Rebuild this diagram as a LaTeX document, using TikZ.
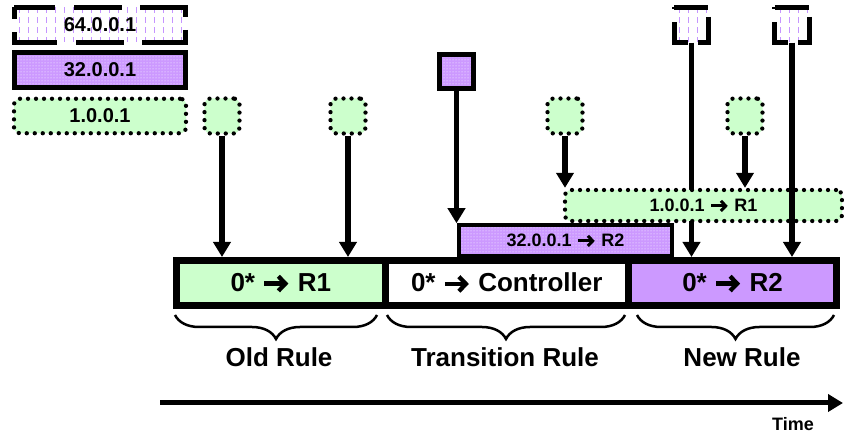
\documentclass[tikz,border=0pt]{standalone}
\usepackage{fontspec}
\setmainfont{Liberation Sans}
\usetikzlibrary{arrows.meta,patterns,decorations.pathreplacing}
\definecolor{rulepurple}{HTML}{CC99FF}
\definecolor{rulegreen}{HTML}{CCFFCC}
\definecolor{hatchpurple}{HTML}{C595FF}
% heavy arrow used inside the rule texts, sized by the current font
\newcommand\rulearrow{\tikz[baseline=0pt]\draw[black, line width=.165em, line join=miter,
  -{Straight Barb[length=.27em,width=.56em]}] (0,.29em) -- (.92em,.29em);}
\begin{document}
\begin{tikzpicture}[x=1pt,y=-1pt,line join=miter,
  every node/.style={font=\bfseries, inner sep=0pt},
  purplebox/.style={draw, preaction={fill=rulepurple}, preaction={pattern=dots, pattern color=white}},
  dotbox/.style={draw, fill=rulegreen, line width=4.3pt, dash pattern=on 0pt off 8pt, line cap=round, rounded corners=6pt},
  hatchbox/.style={fill=white, path picture={
      \foreach \k in {0,...,21}{
        \draw[hatchpurple, line width=1pt, dash pattern=on 6pt off 4pt]
          ([xshift={5pt+\k*9pt}]path picture bounding box.north west) --
          ([xshift={5pt+\k*9pt}]path picture bounding box.south west);
      }}},
  rulebox/.style={draw, line width=7pt, minimum height=45pt, font=\bfseries\fontsize{26}{30}\selectfont},
  smallbox/.style={minimum width=35pt, minimum height=35pt},
  addrtext/.style={font=\bfseries\fontsize{18}{22}\selectfont},
  legtext/.style={font=\bfseries\fontsize{20}{24}\selectfont},
  flow/.style={line width=5.5pt, -{Triangle[width=17pt,length=15pt]}},
  rulebrace/.style={decorate, decoration={brace, mirror, amplitude=24pt}, line width=2.5pt},
  phase/.style={font=\bfseries\fontsize{26}{30}\selectfont}
]
\fill[white] (0,0) rectangle (844,435);
\useasboundingbox (0,0) rectangle (844,435);

% legend
\node[hatchbox, legtext, minimum width=171pt, minimum height=35pt] (leg64) at (100,25) {64.0.0.1};
\draw[line width=5pt, dash pattern=on 41pt off 19pt on 48pt off 18pt on 55pt off 13pt on 57pt off 18pt on 48pt off 19pt on 53pt off 13pt on 10pt off 0pt]
  (leg64.north west) -- (leg64.north east) -- (leg64.south east) -- (leg64.south west) -- cycle;
\node[purplebox, legtext, line width=5pt, minimum width=171pt, minimum height=35pt] (leg32) at (100,70) {32.0.0.1};
\node[dotbox, legtext, minimum width=172pt, minimum height=34.5pt] (leg1) at (100,116) {1.0.0.1};

% flow table over time
\node[rulebox, fill=rulegreen, minimum width=208.5pt] (old) at (280.75,283) {0* \rulearrow{} R1};
\node[rulebox, fill=white, minimum width=243.5pt] (trans) at (506.75,283) {0* \rulearrow{} Controller};
\node[rulebox, fill=rulepurple, minimum width=208pt] (new) at (732.5,283) {0* \rulearrow{} R2};
\node[purplebox, addrtext, line width=3.5pt, minimum width=213pt, minimum height=31pt] (p32) at (565.5,240.5) {32.0.0.1 \rulearrow{} R2};

% arriving packets
\node[dotbox, smallbox] (g1) at (222,116) {};
\node[dotbox, smallbox] (g2) at (348,116) {};
\node[dotbox, smallbox] (g3) at (565,116) {};
\node[dotbox, smallbox] (g4) at (745,116) {};
\node[purplebox, line width=5pt, minimum width=34pt, minimum height=34pt] (pS) at (456.5,71.5) {};
\node[hatchbox, minimum width=34pt, minimum height=35pt] (d1) at (691.5,25) {};
\node[hatchbox, minimum width=34pt, minimum height=35pt] (d2) at (792,25) {};
\draw[line width=5pt, dash pattern=on 34pt off 10pt on 37pt off 10pt on 34pt off 13pt]
  (d1.north west) -- (d1.north east) -- (d1.south east) -- (d1.south west) -- cycle;
\draw[line width=5pt, dash pattern=on 34pt off 10pt on 37pt off 10pt on 34pt off 13pt]
  (d2.north west) -- (d2.north east) -- (d2.south east) -- (d2.south west) -- cycle;

\draw[flow] (g1.south) -- (g1.south |- old.north);
\draw[flow] (g2.south) -- (g2.south |- old.north);
\draw[flow] (pS.south) -- (pS.south |- p32.north);
\draw[flow] (d1.south) -- (d1.south |- new.north);

\node[dotbox, addrtext, minimum width=277pt, minimum height=31pt] (g10) at (703.5,205.5) {1.0.0.1 \rulearrow{} R1};

\draw[flow] (g3.south) -- (g3.south |- g10.north);
\draw[flow] (g4.south) -- (g4.south |- g10.north);
\draw[flow] (d2.south) -- (d2.south |- new.north);

% phases
\draw[rulebrace] (175,315) -- (377,315);
\draw[rulebrace] (387,315) -- (625,315);
\draw[rulebrace] (637,315) -- (834,315);
\node[phase] (oldlbl) at (279,357) {Old Rule};
\node[phase] (translbl) at (505,357) {Transition Rule};
\node[phase] (newlbl) at (742,357) {New Rule};

% time axis
\coordinate (t0) at (160,403);
\coordinate (t1) at (843,403);
\draw[line width=5pt, -{Triangle[width=17pt,length=15pt]}] (t0) -- (t1);
\node[font=\bfseries\fontsize{18}{22}\selectfont] (time) at (793,424) {Time};
\end{tikzpicture}
\end{document}
